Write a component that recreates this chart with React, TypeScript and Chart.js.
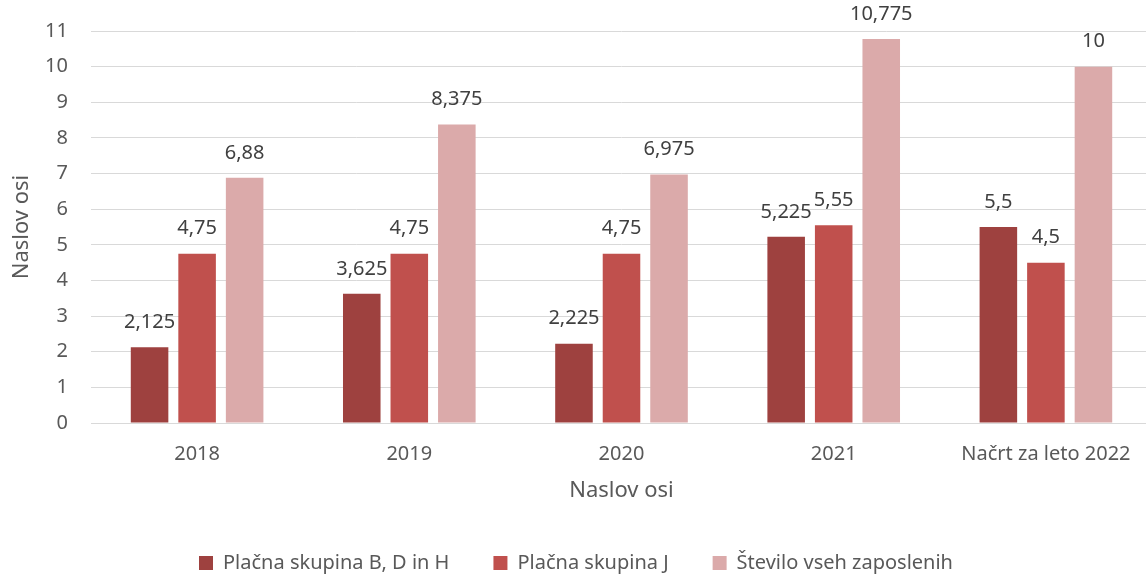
import React, { useEffect, useRef } from "react";
import { Chart, registerables } from "chart.js";

Chart.register(...registerables);

const categories = ["2018", "2019", "2020", "2021", "Načrt za leto 2022"];
const seriesNames = ["Plačna skupina B, D in H", "Plačna skupina J", "Število vseh zaposlenih"];
const groupBDH = [2.125, 3.625, 2.225, 5.225, 5.5];
const groupJ = [4.75, 4.75, 4.75, 5.55, 4.5];
const allEmployees = [6.88, 8.375, 6.975, 10.775, 10];
const seriesColors = ["#9E413F", "#C0504D", "#DBAAAA"];
const yTicks = [0, 1, 2, 3, 4, 5, 6, 7, 8, 9, 10, 11];
const axisTitle = "Naslov osi";

const FONT = "'Noto Sans', sans-serif";
const TEXT = "#595959";

const labelPlugin = {
  id: "barLabels",
  afterDatasetsDraw(chart: any) {
    const ctx = chart.ctx;
    ctx.save();
    ctx.font = `20px ${FONT}`;
    ctx.fillStyle = "#404040";
    ctx.textAlign = "center";
    ctx.textBaseline = "middle";
    chart.data.datasets.forEach((ds: any, i: number) => {
      const meta = chart.getDatasetMeta(i);
      meta.data.forEach((bar: any, j: number) => {
        const v = ds.data[j];
        ctx.fillText(String(v).replace(".", ","), bar.x, bar.y - 25);
      });
    });
    ctx.restore();
  },
};

export default function App() {
  const ref = useRef<HTMLCanvasElement>(null);
  useEffect(() => {
    const chart = new Chart(ref.current!, {
      type: "bar",
      data: {
        labels: categories,
        datasets: [groupBDH, groupJ, allEmployees].map((d, i) => ({
          label: seriesNames[i],
          data: d,
          backgroundColor: seriesColors[i],
          categoryPercentage: 0.672,
          barPercentage: 0.79,
        })),
      },
      options: {
        responsive: false,
        animation: false,
        layout: { padding: { left: 0, right: 8, top: 31, bottom: -6 } },
        plugins: {
          tooltip: { enabled: false },
          legend: {
            position: "bottom",
            labels: {
              font: { family: FONT, size: 20 },
              color: TEXT,
              boxWidth: 14,
              boxHeight: 14,
              padding: 44,
              useBorderRadius: false,
            },
          },
        },
        scales: {
          x: {
            grid: { display: false, drawTicks: false },
            border: { display: true, color: "#D9D9D9", width: 1 },
            ticks: { font: { family: FONT, size: 20 }, color: TEXT, padding: 19 },
            title: {
              display: true,
              text: axisTitle,
              font: { family: FONT, size: 22 },
              color: TEXT,
              padding: { top: 0, bottom: 5 },
            },
            afterFit(scale: any) {
              scale.height = 86;
            },
          },
          y: {
            min: 0,
            max: 11,
            afterBuildTicks(scale: any) {
              scale.ticks = yTicks.map((v) => ({ value: v }));
            },
            grid: { color: "#D9D9D9", lineWidth: 1, drawTicks: false },
            border: { display: false },
            ticks: { font: { family: FONT, size: 20 }, color: TEXT, padding: 23 },
            title: {
              display: true,
              text: axisTitle,
              font: { family: FONT, size: 22 },
              color: TEXT,
              padding: { top: 9, bottom: 0 },
            },
            afterFit(scale: any) {
              scale.width = 91;
              scale.paddingTop = 0;
              scale.paddingBottom = 0;
            },
          },
        },
      },
      plugins: [labelPlugin],
    } as any);
    return () => chart.destroy();
  }, []);
  return (
    <div style={{ position: "fixed", left: 0, top: 0, width: 1146, height: 577, overflow: "hidden", background: "#fff" }}>
      <canvas ref={ref} width={1160} height={577} style={{ width: 1160, height: 577, display: "block" }} />
    </div>
  );
}
